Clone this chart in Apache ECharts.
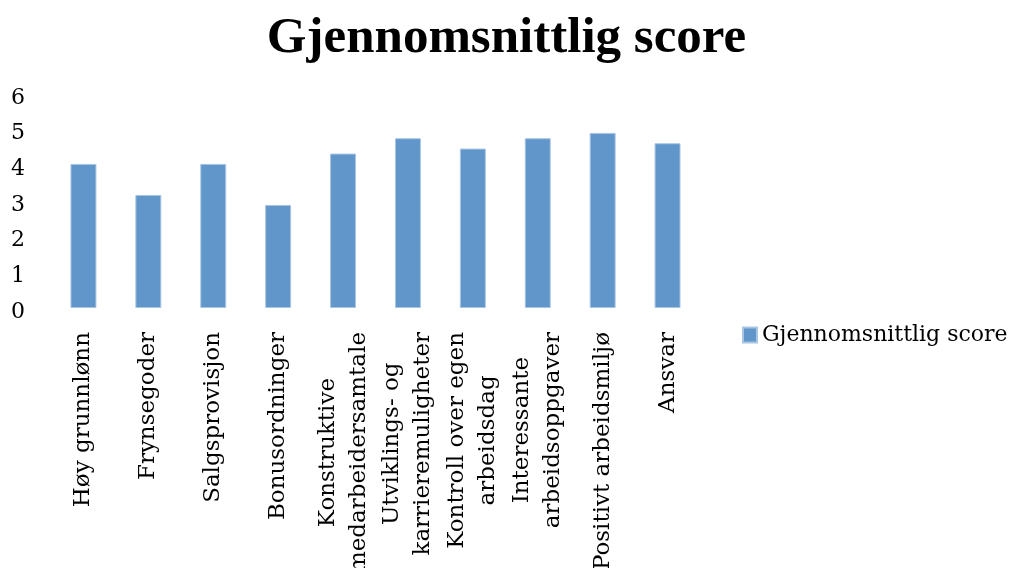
<!DOCTYPE html>
<html>
<head>
<meta charset="utf-8">
<script src="https://cdn.jsdelivr.net/npm/echarts@6/dist/echarts.min.js"></script>
<style>
  html, body { margin: 0; padding: 0; background: #fff; }
  #chart { width: 1013px; height: 568px; }
</style>
</head>
<body>
<div id="chart"></div>
<script>
// kategorier og verdier
const categories = [
  'Høy grunnlønn',
  'Frynsegoder',
  'Salgsprovisjon',
  'Bonusordninger',
  'Konstruktive\nmedarbeidersamtale',
  'Utviklings- og\nkarrieremuligheter',
  'Kontroll over egen\narbeidsdag',
  'Interessante\narbeidsoppgaver',
  'Positivt arbeidsmiljø',
  'Ansvar'
];
const scores = [4.04, 3.17, 4.04, 2.89, 4.33, 4.76, 4.47, 4.76, 4.91, 4.62];
const seriesName = 'Gjennomsnittlig score';
const titleText = 'Gjennomsnittlig score';
const yTicks = { min: 0, max: 6, interval: 1 };

const serif = '"DejaVu Serif", "Liberation Serif", serif';
const titleFont = '"Liberation Serif", serif';

const chart = echarts.init(document.getElementById('chart'), null, { renderer: 'canvas' });

const option = {
  animation: false,
  backgroundColor: '#ffffff',
  title: {
    text: titleText,
    left: 'center',
    top: 13,
    padding: 0,
    textStyle: {
      fontFamily: titleFont,
      fontWeight: 'bold',
      fontSize: 51,
      color: '#000'
    }
  },
  legend: {
    data: [seriesName],
    left: 742,
    top: 324,
    padding: 0,
    itemWidth: 14,
    itemHeight: 15,
    itemGap: 5,
    icon: 'rect',
    textStyle: {
      fontFamily: serif,
      fontSize: 22,
      color: '#000'
    }
  },
  // plassering av plottområdet, fast (ingen automatisk krymping for etiketter)
  grid: {
    left: 51,
    right: 313,
    top: 94,
    bottom: 260,
    containLabel: false,
    outerBoundsMode: 'none'
  },
  xAxis: {
    type: 'category',
    data: categories,
    axisLine: { show: false },
    axisTick: { show: false },
    axisLabel: {
      interval: 0,
      rotate: 90,
      margin: 24,
      fontFamily: serif,
      fontSize: 23,
      color: '#000',
      lineHeight: 31,
      // linjene i flerlinjeetiketter sentreres mot hverandre
      formatter: function (value) {
        return value.split('\n').map(l => '{c|' + l + '}').join('\n');
      },
      rich: {
        c: {
          align: 'center',
          fontFamily: serif,
          fontSize: 23,
          lineHeight: 31,
          color: '#000'
        }
      }
    }
  },
  yAxis: {
    type: 'value',
    min: yTicks.min,
    max: yTicks.max,
    interval: yTicks.interval,
    axisLine: { show: false },
    axisTick: { show: false },
    splitLine: { show: false },
    axisLabel: {
      margin: 26,
      fontFamily: serif,
      fontSize: 22,
      color: '#000',
      // tallene står litt under sin verdi i originalen
      formatter: '{v|{value}}',
      rich: {
        v: {
          fontFamily: serif,
          fontSize: 22,
          color: '#000',
          padding: [8, 0, 0, 0]
        }
      }
    }
  },
  series: [{
    name: seriesName,
    type: 'bar',
    data: scores,
    barWidth: '40%',
    itemStyle: {
      color: '#6096C9',
      borderColor: '#A9C5E4',
      borderWidth: 1
    }
  }]
};

chart.setOption(option);
</script>
</body>
</html>
